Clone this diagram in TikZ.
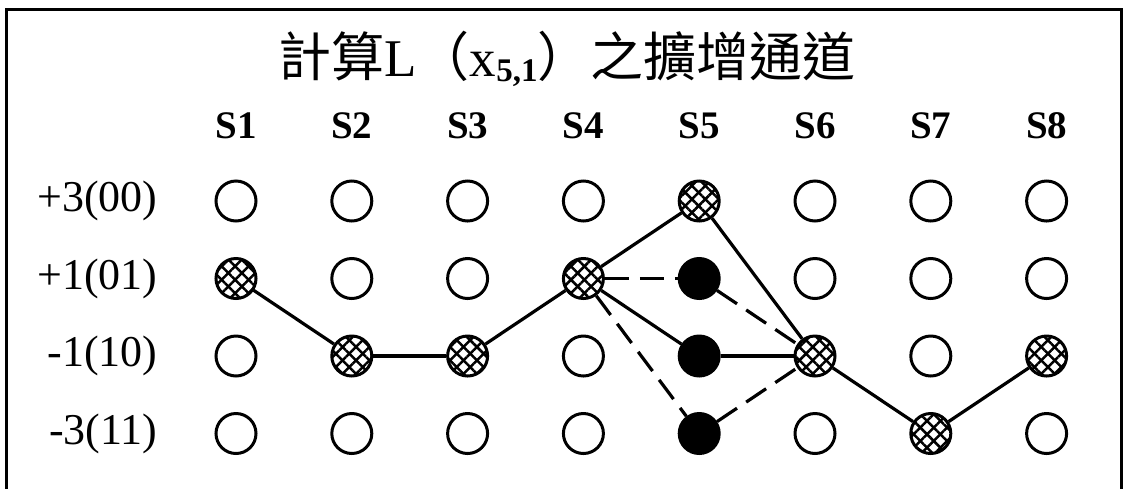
\documentclass[tikz,border=0pt]{standalone}
\usepackage{fontspec}
\setmainfont{Liberation Serif}
\newfontfamily\cjk{Noto Sans CJK TC}
\usetikzlibrary{patterns.meta}
\tikzset{openpt/.style={circle,draw,line width=3pt,minimum size=40pt,inner sep=0pt}}
\tikzset{hatchpt/.style={openpt,pattern={Lines[angle=45,distance=9.5pt,line width=2.5pt]},
         preaction={pattern={Lines[angle=-45,distance=9.5pt,line width=2.5pt]}}}}
\tikzset{fullpt/.style={openpt,fill=black}}

\begin{document}
\begin{tikzpicture}[x=1pt,y=-1pt]
	
	\tikzstyle{collabel}=[font=\bfseries\fontsize{39}{44}\selectfont];
	\tikzstyle{rowlabel}=[font=\fontsize{44}{50}\selectfont,anchor=east];
	\tikzstyle{route}=[line width=3.2pt];
	\tikzstyle{alt}=[line width=3.2pt,dash pattern=on 24pt off 11pt];
	
	\useasboundingbox (0,0) rectangle (1123,488);
	\draw[line width=3pt] (6,500) -- (6,9) -- (1121,9) -- (1121,500);
	
	\node (title) at (567,59) {\fontsize{53}{60}\selectfont{\cjk 計算}L{\cjk （}x\raisebox{-0.22ex}{\fontsize{33}{36}\selectfont\bfseries 5,1}{\cjk ）之擴增通道}};
	
	\foreach \t [count=\j] in {+3(00),+1(01),-1(10),-3(11)}
		\node[rowlabel] (l\j) at (161,{123.5+77.5*\j}) {\t};
	
	\foreach \i/\ra/\rb/\rc/\rd in {1/openpt/hatchpt/openpt/openpt,
	                               2/openpt/openpt/hatchpt/openpt,
	                               3/openpt/openpt/hatchpt/openpt,
	                               4/openpt/hatchpt/openpt/openpt,
	                               5/hatchpt/fullpt/fullpt/fullpt,
	                               6/openpt/openpt/hatchpt/openpt,
	                               7/openpt/openpt/openpt/hatchpt,
	                               8/openpt/openpt/hatchpt/openpt}
	{
		\node[collabel] (h\i) at ({120.2+115.8*\i},126) {S\i};
		\node[\ra] (s\i-1) at ({120.2+115.8*\i},201) {};
		\node[\rb] (s\i-2) at ({120.2+115.8*\i},278.5) {};
		\node[\rc] (s\i-3) at ({120.2+115.8*\i},356) {};
		\node[\rd] (s\i-4) at ({120.2+115.8*\i},433.5) {};
	}
	
	\path[route]
		(s1-2) edge (s2-3)
		(s2-3) edge (s3-3)
		(s3-3) edge (s4-2)
		(s4-2) edge (s5-1)
		(s5-1) edge (s6-3)
		(s6-3) edge (s7-4)
		(s7-4) edge (s8-3)
		(s4-2) edge (s5-3)
		(s5-3) edge (s6-3);
	\path[alt]
		(s4-2) edge (s5-2)
		(s5-2) edge (s6-3)
		(s4-2) edge (s5-4)
		(s5-4) edge (s6-3);
\end{tikzpicture}
\end{document}
